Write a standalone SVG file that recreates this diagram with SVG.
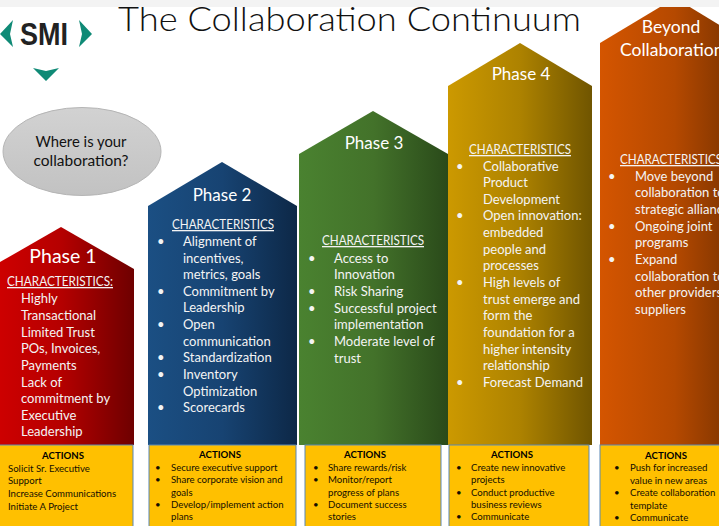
<svg xmlns="http://www.w3.org/2000/svg" width="719" height="526" viewBox="0 0 719 526">
<style>
text{font-family:"Lato","Open Sans","Liberation Sans",sans-serif}
.h{font-size:17px;fill:#fff;text-anchor:middle}
.c{font-size:13px;fill:#f4f4f4}
.u{text-decoration:underline;font-size:13px;fill:#f4f4f4}
.a{font-size:9.6px;fill:#140f00}
.t{font-size:9.6px;fill:#000;font-weight:700;text-anchor:middle}
.box{fill:#ffc000;stroke:#5b87b5;stroke-width:1}
</style>
<defs>
<linearGradient id="g1"><stop offset="0" stop-color="#d20000"/><stop offset=".5" stop-color="#b50000"/><stop offset="1" stop-color="#6e0000"/></linearGradient>
<linearGradient id="g2"><stop offset="0" stop-color="#1b4f83"/><stop offset=".5" stop-color="#174372"/><stop offset="1" stop-color="#0d2847"/></linearGradient>
<linearGradient id="g3"><stop offset="0" stop-color="#4a8230"/><stop offset=".5" stop-color="#43722a"/><stop offset="1" stop-color="#2a4a1a"/></linearGradient>
<linearGradient id="g4"><stop offset="0" stop-color="#cc9900"/><stop offset=".5" stop-color="#ad8200"/><stop offset="1" stop-color="#705500"/></linearGradient>
<linearGradient id="g5" gradientUnits="userSpaceOnUse" x1="600" x2="749" y1="0" y2="0"><stop offset="0" stop-color="#d45500"/><stop offset=".5" stop-color="#b54900"/><stop offset="1" stop-color="#6e2e00"/></linearGradient>
<linearGradient id="gEll" x1="0" y1="0" x2="0" y2="1"><stop offset="0" stop-color="#d2d2d2"/><stop offset="1" stop-color="#c2c2c2"/></linearGradient>
</defs>
<rect width="719" height="526" fill="#fff"/>
<rect width="719" height="7" fill="#f3f3f3"/>

<g id="logo">
<polygon points="13,20 0,34 13,47 10,34" fill="#0f8a76"/>
<polygon points="79,20 92,34 79,47 82,34" fill="#0f8a76"/>
<polygon points="33,68 46,71 59,68 46,81" fill="#0f8a76"/>
<text x="44" y="45" font-size="31" font-weight="700" fill="#222" text-anchor="middle" style="font-family:'Liberation Sans',sans-serif" textLength="48" lengthAdjust="spacingAndGlyphs">SMI</text>
</g>
<g id="title"><text x="118" y="31" font-size="33" font-weight="300" fill="#111" textLength="463" lengthAdjust="spacingAndGlyphs">The Collaboration Continuum</text></g>

<g id="question">
<ellipse cx="82" cy="151.500" rx="79" ry="44" fill="url(#gEll)" stroke="#b5b5b5"/>
<text x="81" y="147" font-size="14.500" fill="#111" text-anchor="middle" textLength="91" lengthAdjust="spacingAndGlyphs">Where is your</text>
<text x="81" y="166" font-size="14.500" fill="#111" text-anchor="middle" textLength="95" lengthAdjust="spacingAndGlyphs">collaboration?</text>
</g>

<g id="phase1">
<polygon points="-12,269 61,227 134,269 134,445 -12,445" fill="url(#g1)"/>
<text class="h" x="63" y="263" style="font-size:19.500px">Phase 1</text>
<text class="u" x="7" y="286" textLength="106" lengthAdjust="spacingAndGlyphs">CHARACTERISTICS:</text>
<text class="c" x="21" y="303">Highly</text>
<text class="c" x="21" y="320">Transactional</text>
<text class="c" x="21" y="337">Limited Trust</text>
<text class="c" x="21" y="353">POs, Invoices,</text>
<text class="c" x="21" y="370">Payments</text>
<text class="c" x="21" y="387">Lack of</text>
<text class="c" x="21" y="403">commitment by</text>
<text class="c" x="21" y="420">Executive</text>
<text class="c" x="21" y="436">Leadership</text>
<rect class="box" x="-2" y="445" width="135" height="84"/>
<text class="t" x="63" y="459">ACTIONS</text>
<text class="a" x="8" y="472">Solicit Sr. Executive</text>
<text class="a" x="8" y="484">Support</text>
<text class="a" x="8" y="497">Increase Communications</text>
<text class="a" x="8" y="510">Initiate A Project</text>
</g>

<g id="phase2">
<polygon points="148,206 222,162 297,206 297,445 148,445" fill="url(#g2)"/>
<text class="h" x="222" y="201">Phase 2</text>
<text class="u" x="172" y="229" textLength="102" lengthAdjust="spacingAndGlyphs">CHARACTERISTICS</text>
<text class="c" x="157" y="246">•</text><text class="c" x="183" y="246">Alignment of</text>
<text class="c" x="183" y="263">incentives,</text>
<text class="c" x="183" y="279">metrics, goals</text>
<text class="c" x="157" y="296">•</text><text class="c" x="183" y="296">Commitment by</text>
<text class="c" x="183" y="312">Leadership</text>
<text class="c" x="157" y="329">•</text><text class="c" x="183" y="329">Open</text>
<text class="c" x="183" y="346">communication</text>
<text class="c" x="157" y="362">•</text><text class="c" x="183" y="362">Standardization</text>
<text class="c" x="157" y="379">•</text><text class="c" x="183" y="379">Inventory</text>
<text class="c" x="183" y="396">Optimization</text>
<text class="c" x="157" y="412">•</text><text class="c" x="183" y="412">Scorecards</text>
<rect class="box" x="149" y="445" width="147" height="84"/>
<text class="t" x="220" y="458">ACTIONS</text>
<text class="a" x="155" y="471">•</text><text class="a" x="171" y="471">Secure executive support</text>
<text class="a" x="155" y="483">•</text><text class="a" x="171" y="483">Share corporate vision and</text>
<text class="a" x="171" y="496">goals</text>
<text class="a" x="155" y="508">•</text><text class="a" x="171" y="508">Develop/implement action</text>
<text class="a" x="171" y="520">plans</text>
</g>

<g id="phase3">
<polygon points="299,154 373,111 448,154 448,445 299,445" fill="url(#g3)"/>
<text class="h" x="374" y="149">Phase 3</text>
<text class="u" x="322" y="245" textLength="102" lengthAdjust="spacingAndGlyphs">CHARACTERISTICS</text>
<text class="c" x="308" y="263">•</text><text class="c" x="334" y="263">Access to</text>
<text class="c" x="334" y="279">Innovation</text>
<text class="c" x="308" y="296">•</text><text class="c" x="334" y="296">Risk Sharing</text>
<text class="c" x="308" y="313">•</text><text class="c" x="334" y="313">Successful project</text>
<text class="c" x="334" y="329">implementation</text>
<text class="c" x="308" y="346">•</text><text class="c" x="334" y="346">Moderate level of</text>
<text class="c" x="334" y="363">trust</text>
<rect class="box" x="305" y="445" width="136" height="84"/>
<text class="t" x="365" y="458">ACTIONS</text>
<text class="a" x="313" y="471">•</text><text class="a" x="328" y="471">Share rewards/risk</text>
<text class="a" x="313" y="483">•</text><text class="a" x="328" y="483">Monitor/report</text>
<text class="a" x="328" y="496">progress of plans</text>
<text class="a" x="313" y="508">•</text><text class="a" x="328" y="508">Document success</text>
<text class="a" x="328" y="520">stories</text>
</g>

<g id="phase4">
<polygon points="448,86 520,43 592,86 592,445 448,445" fill="url(#g4)"/>
<text class="h" x="521" y="80">Phase 4</text>
<text class="u" x="469" y="154" textLength="102" lengthAdjust="spacingAndGlyphs">CHARACTERISTICS</text>
<text class="c" x="456" y="171">•</text><text class="c" x="483" y="171">Collaborative</text>
<text class="c" x="483" y="187">Product</text>
<text class="c" x="483" y="204">Development</text>
<text class="c" x="456" y="220">•</text><text class="c" x="483" y="220">Open innovation:</text>
<text class="c" x="483" y="237">embedded</text>
<text class="c" x="483" y="254">people and</text>
<text class="c" x="483" y="270">processes</text>
<text class="c" x="456" y="287">•</text><text class="c" x="483" y="287">High levels of</text>
<text class="c" x="483" y="304">trust emerge and</text>
<text class="c" x="483" y="320">form the</text>
<text class="c" x="483" y="337">foundation for a</text>
<text class="c" x="483" y="354">higher intensity</text>
<text class="c" x="483" y="370">relationship</text>
<text class="c" x="456" y="387">•</text><text class="c" x="483" y="387">Forecast Demand</text>
<rect class="box" x="449" y="445" width="140" height="84"/>
<text class="t" x="512" y="458">ACTIONS</text>
<text class="a" x="456" y="471">•</text><text class="a" x="471" y="471">Create new innovative</text>
<text class="a" x="471" y="483">projects</text>
<text class="a" x="456" y="496">•</text><text class="a" x="471" y="496">Conduct productive</text>
<text class="a" x="471" y="508">business reviews</text>
<text class="a" x="456" y="520">•</text><text class="a" x="471" y="520">Communicate</text>
</g>

<g id="beyond">
<polygon points="600,43 675,-2 749,43 749,445 600,445" fill="url(#g5)"/>
<rect x="600" y="0" width="119" height="7" fill="#f3f3f3"/>
<text class="h" x="671" y="33" style="font-size:17.500px">Beyond</text>
<text class="h" x="620" y="56" style="text-anchor:start;font-size:17.500px">Collaboration</text>
<text class="u" x="620" y="164" textLength="102" lengthAdjust="spacingAndGlyphs">CHARACTERISTICS</text>
<text class="c" x="608" y="181">•</text><text class="c" x="635" y="181">Move beyond</text>
<text class="c" x="635" y="197">collaboration to</text>
<text class="c" x="635" y="214">strategic alliances</text>
<text class="c" x="608" y="231">•</text><text class="c" x="635" y="231">Ongoing joint</text>
<text class="c" x="635" y="247">programs</text>
<text class="c" x="608" y="264">•</text><text class="c" x="635" y="264">Expand</text>
<text class="c" x="635" y="281">collaboration to</text>
<text class="c" x="635" y="297">other providers</text>
<text class="c" x="635" y="314">suppliers</text>
<rect class="box" x="600" y="445" width="140" height="84"/>
<text class="t" x="666" y="459">ACTIONS</text>
<text class="a" x="614" y="471">•</text><text class="a" x="630" y="471">Push for increased</text>
<text class="a" x="630" y="484">value in new areas</text>
<text class="a" x="614" y="496">•</text><text class="a" x="630" y="496">Create collaboration</text>
<text class="a" x="630" y="509">template</text>
<text class="a" x="614" y="521">•</text><text class="a" x="630" y="521">Communicate</text>
</g>
</svg>
